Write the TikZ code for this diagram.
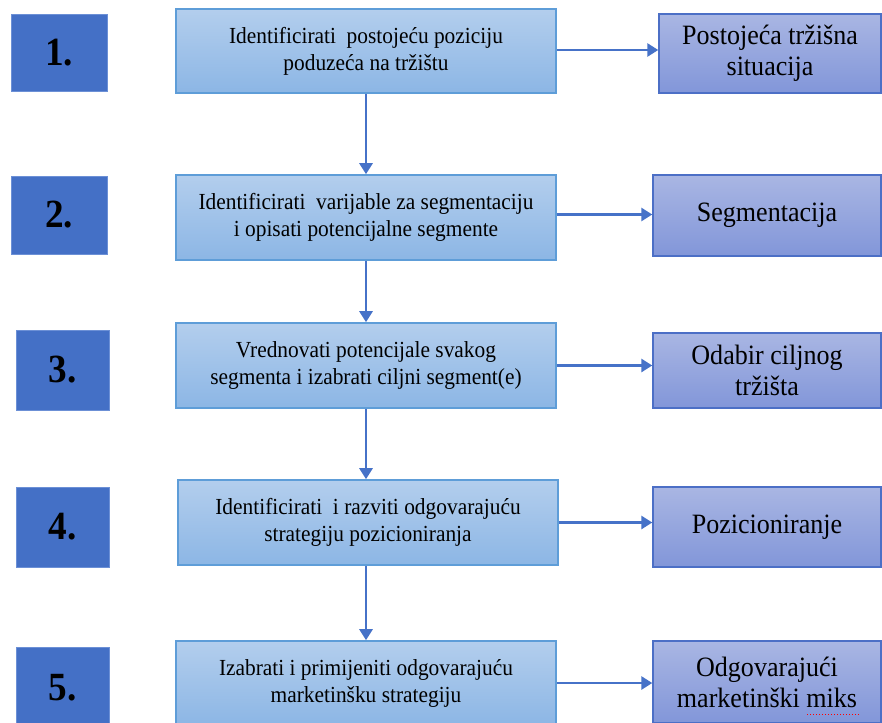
\documentclass[tikz,border=0pt]{standalone}
\usepackage{fontspec}
\setmainfont{Liberation Serif}[FakeStretch=0.93]
\usetikzlibrary{arrows.meta,shadings}
\definecolor{numblue}{HTML}{4470C6}
\definecolor{numedge}{HTML}{6C90D6}
\definecolor{midtop}{HTML}{B3CEED}
\definecolor{midbot}{HTML}{8CB6E5}
\definecolor{midedge}{HTML}{5E9DD8}
\definecolor{rtop}{HTML}{A9B6E3}
\definecolor{rbot}{HTML}{8296D9}
\definecolor{redge}{HTML}{4C6FC6}
\definecolor{arrowblue}{HTML}{4672C8}
\tikzset{
  numbox/.style={draw=numedge, line width=0.8pt, fill=numblue, inner sep=0pt,
    font=\fontsize{40}{40}\selectfont\bfseries, text=black},
  midbox/.style={draw=midedge, line width=1.6pt, top color=midtop, bottom color=midbot,
    inner sep=0pt, minimum width=380pt, align=center,
    font=\fontsize{23}{27}\selectfont, text=black},
  rbox/.style={draw=redge, line width=1.4pt, top color=rtop, bottom color=rbot,
    inner sep=0pt, align=center, font=\fontsize{28}{31}\selectfont, text=black},
  flow/.style={draw=arrowblue, line width=2.8pt, -{Triangle[width=13pt,length=11pt]}}
}
\begin{document}
\begin{tikzpicture}[x=1pt,y=-1pt]
\useasboundingbox (0,0) rectangle (882,722);
\fill[white] (0,0) rectangle (882,722);
\begin{scope}
\clip (0,0) rectangle (882,722);
% number boxes
\node[numbox, minimum width=96pt, minimum height=77pt] (n1) at (59,52.5) {1.};
\node[numbox, minimum width=96pt, minimum height=78pt] (n2) at (59,215) {2.};
\node[numbox, minimum width=93pt, minimum height=80pt] (n3) at (62.5,370) {3.};
\node[numbox, minimum width=93pt, minimum height=80pt] (n4) at (62.5,527) {4.};
\node[numbox, minimum width=93pt, minimum height=82pt] (n5) at (62.5,688) {5.};
% middle boxes
\node[midbox, minimum height=84pt] (m1) at (366,51) {Identificirati\ \ postojeću poziciju\\poduzeća na tržištu};
\node[midbox, minimum height=85pt] (m2) at (366,217.5) {Identificirati\ \ varijable za segmentaciju\\i opisati potencijalne segmente};
\node[midbox, minimum height=85pt] (m3) at (366,365.5) {Vrednovati potencijale svakog\\segmenta i izabrati ciljni segment(e)};
\node[midbox, minimum height=85pt] (m4) at (368,522.5) {Identificirati\ \ i razviti odgovarajuću\\strategiju pozicioniranja};
\node[midbox, minimum height=84pt] (m5) at (366,683) {Izabrati i primijeniti odgovarajuću\\marketinšku strategiju};
% right boxes
\node[rbox, minimum width=222pt, minimum height=79pt] (r1) at (770,53.5) {Postojeća tržišna\\situacija};
\node[rbox, minimum width=228pt, minimum height=81pt] (r2) at (767,215.5) {Segmentacija};
\node[rbox, minimum width=228pt, minimum height=75pt] (r3) at (767,370.5) {Odabir ciljnog\\tržišta};
\node[rbox, minimum width=228pt, minimum height=80pt] (r4) at (767,527) {Pozicioniranje};
\node[rbox, minimum width=228pt, minimum height=82pt] (r5) at (767,682) {Odgovarajući\\marketinški miks};
\end{scope}
% vertical connectors
\draw[flow] (m1.south) -- (m2.north);
\draw[flow] (m2.south) -- (m3.north);
\draw[flow] (m3.south) -- (m4.north -| m3.south);
\draw[flow] (m4.south -| m3.south) -- (m5.north);
% horizontal connectors
\draw[flow] (m1.east) ++(0,-1) -- (r1.west |- 0,50);
\draw[flow] (m2.east) ++(0,-3) -- (r2.west |- 0,214.5);
\draw[flow] (m3.east) -- (r3.west |- m3.east);
\draw[flow] (m4.east) -- (r4.west |- m4.east);
\draw[flow] (m5.east) -- (r5.west |- m5.east);
% spellcheck underline under "miks"
\coordinate (sq1) at (807,714);
\coordinate (sq2) at (860,714);
\draw[red, line width=1pt, dotted] (sq1) -- (sq2);
\end{tikzpicture}
\end{document}
